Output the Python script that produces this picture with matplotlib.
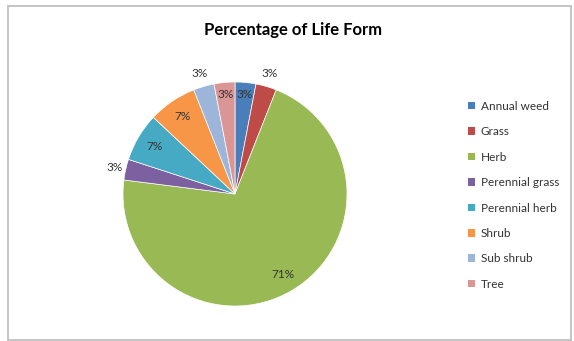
import matplotlib
matplotlib.use("Agg")
import matplotlib.pyplot as plt
from matplotlib.patches import Rectangle, Patch
import numpy as np

plt.rcParams['font.family'] = ['Lato', 'DejaVu Sans']

categories = ["Annual weed", "Grass", "Herb", "Perennial grass",
              "Perennial herb", "Shrub", "Sub shrub", "Tree"]
percentages = [3, 3, 71, 3, 7, 7, 3, 3]
value_labels = ["3%", "3%", "71%", "3%", "7%", "7%", "3%", "3%"]

colors = ["#4A7EBB", "#BE4B48", "#98B954", "#7D60A0",
          "#46AAC5", "#F79646", "#9DB5D9", "#D99694"]
# radial distance of each value label (fraction of the pie radius)
label_radius = [0.89, 1.12, 0.84, 1.10, 0.84, 0.84, 1.12, 0.89]

W, H = 574, 341
fig = plt.figure(figsize=(W / 100, H / 100), dpi=100)
fig.patch.set_facecolor("white")

# chart frame
fig.add_artist(Rectangle((8 / W, 1 / H), (571 - 8) / W, (335 - 1) / H,
                         transform=fig.transFigure, fill=False,
                         edgecolor="#c4c4c4", lw=1.4))

cx, cy, r = 235, 194, 112
ax = fig.add_axes([(cx - r) / W, (H - cy - r) / H, 2 * r / W, 2 * r / H])

wedges, _ = ax.pie(percentages, colors=colors, startangle=90,
                   counterclock=False, radius=1.0,
                   wedgeprops=dict(linewidth=0.5, edgecolor="white"))
ax.set_xlim(-1, 1)
ax.set_ylim(-1, 1)
ax.axis("off")

for w, lab, rr in zip(wedges, value_labels, label_radius):
    mid = np.deg2rad((w.theta1 + w.theta2) / 2)
    ax.text(rr * np.cos(mid), rr * np.sin(mid), lab, ha="center", va="center",
            fontsize=8.5, color="#333333", clip_on=False)

fig.text(293 / W, 1 - 30 / H, "Percentage of Life Form", ha="center",
         va="center", fontsize=12, fontweight="bold", color="#000000")

handles = [Patch(facecolor=c, edgecolor="none") for c in colors]
fig.legend(handles, categories, loc="upper left",
           bbox_to_anchor=(462 / W, 1 - 95 / H), frameon=False,
           fontsize=8.5, handlelength=0.6, handleheight=0.6,
           handletextpad=0.5, labelspacing=1.22, borderpad=0,
           labelcolor="#333333")

fig.savefig("out.png", dpi=100)
